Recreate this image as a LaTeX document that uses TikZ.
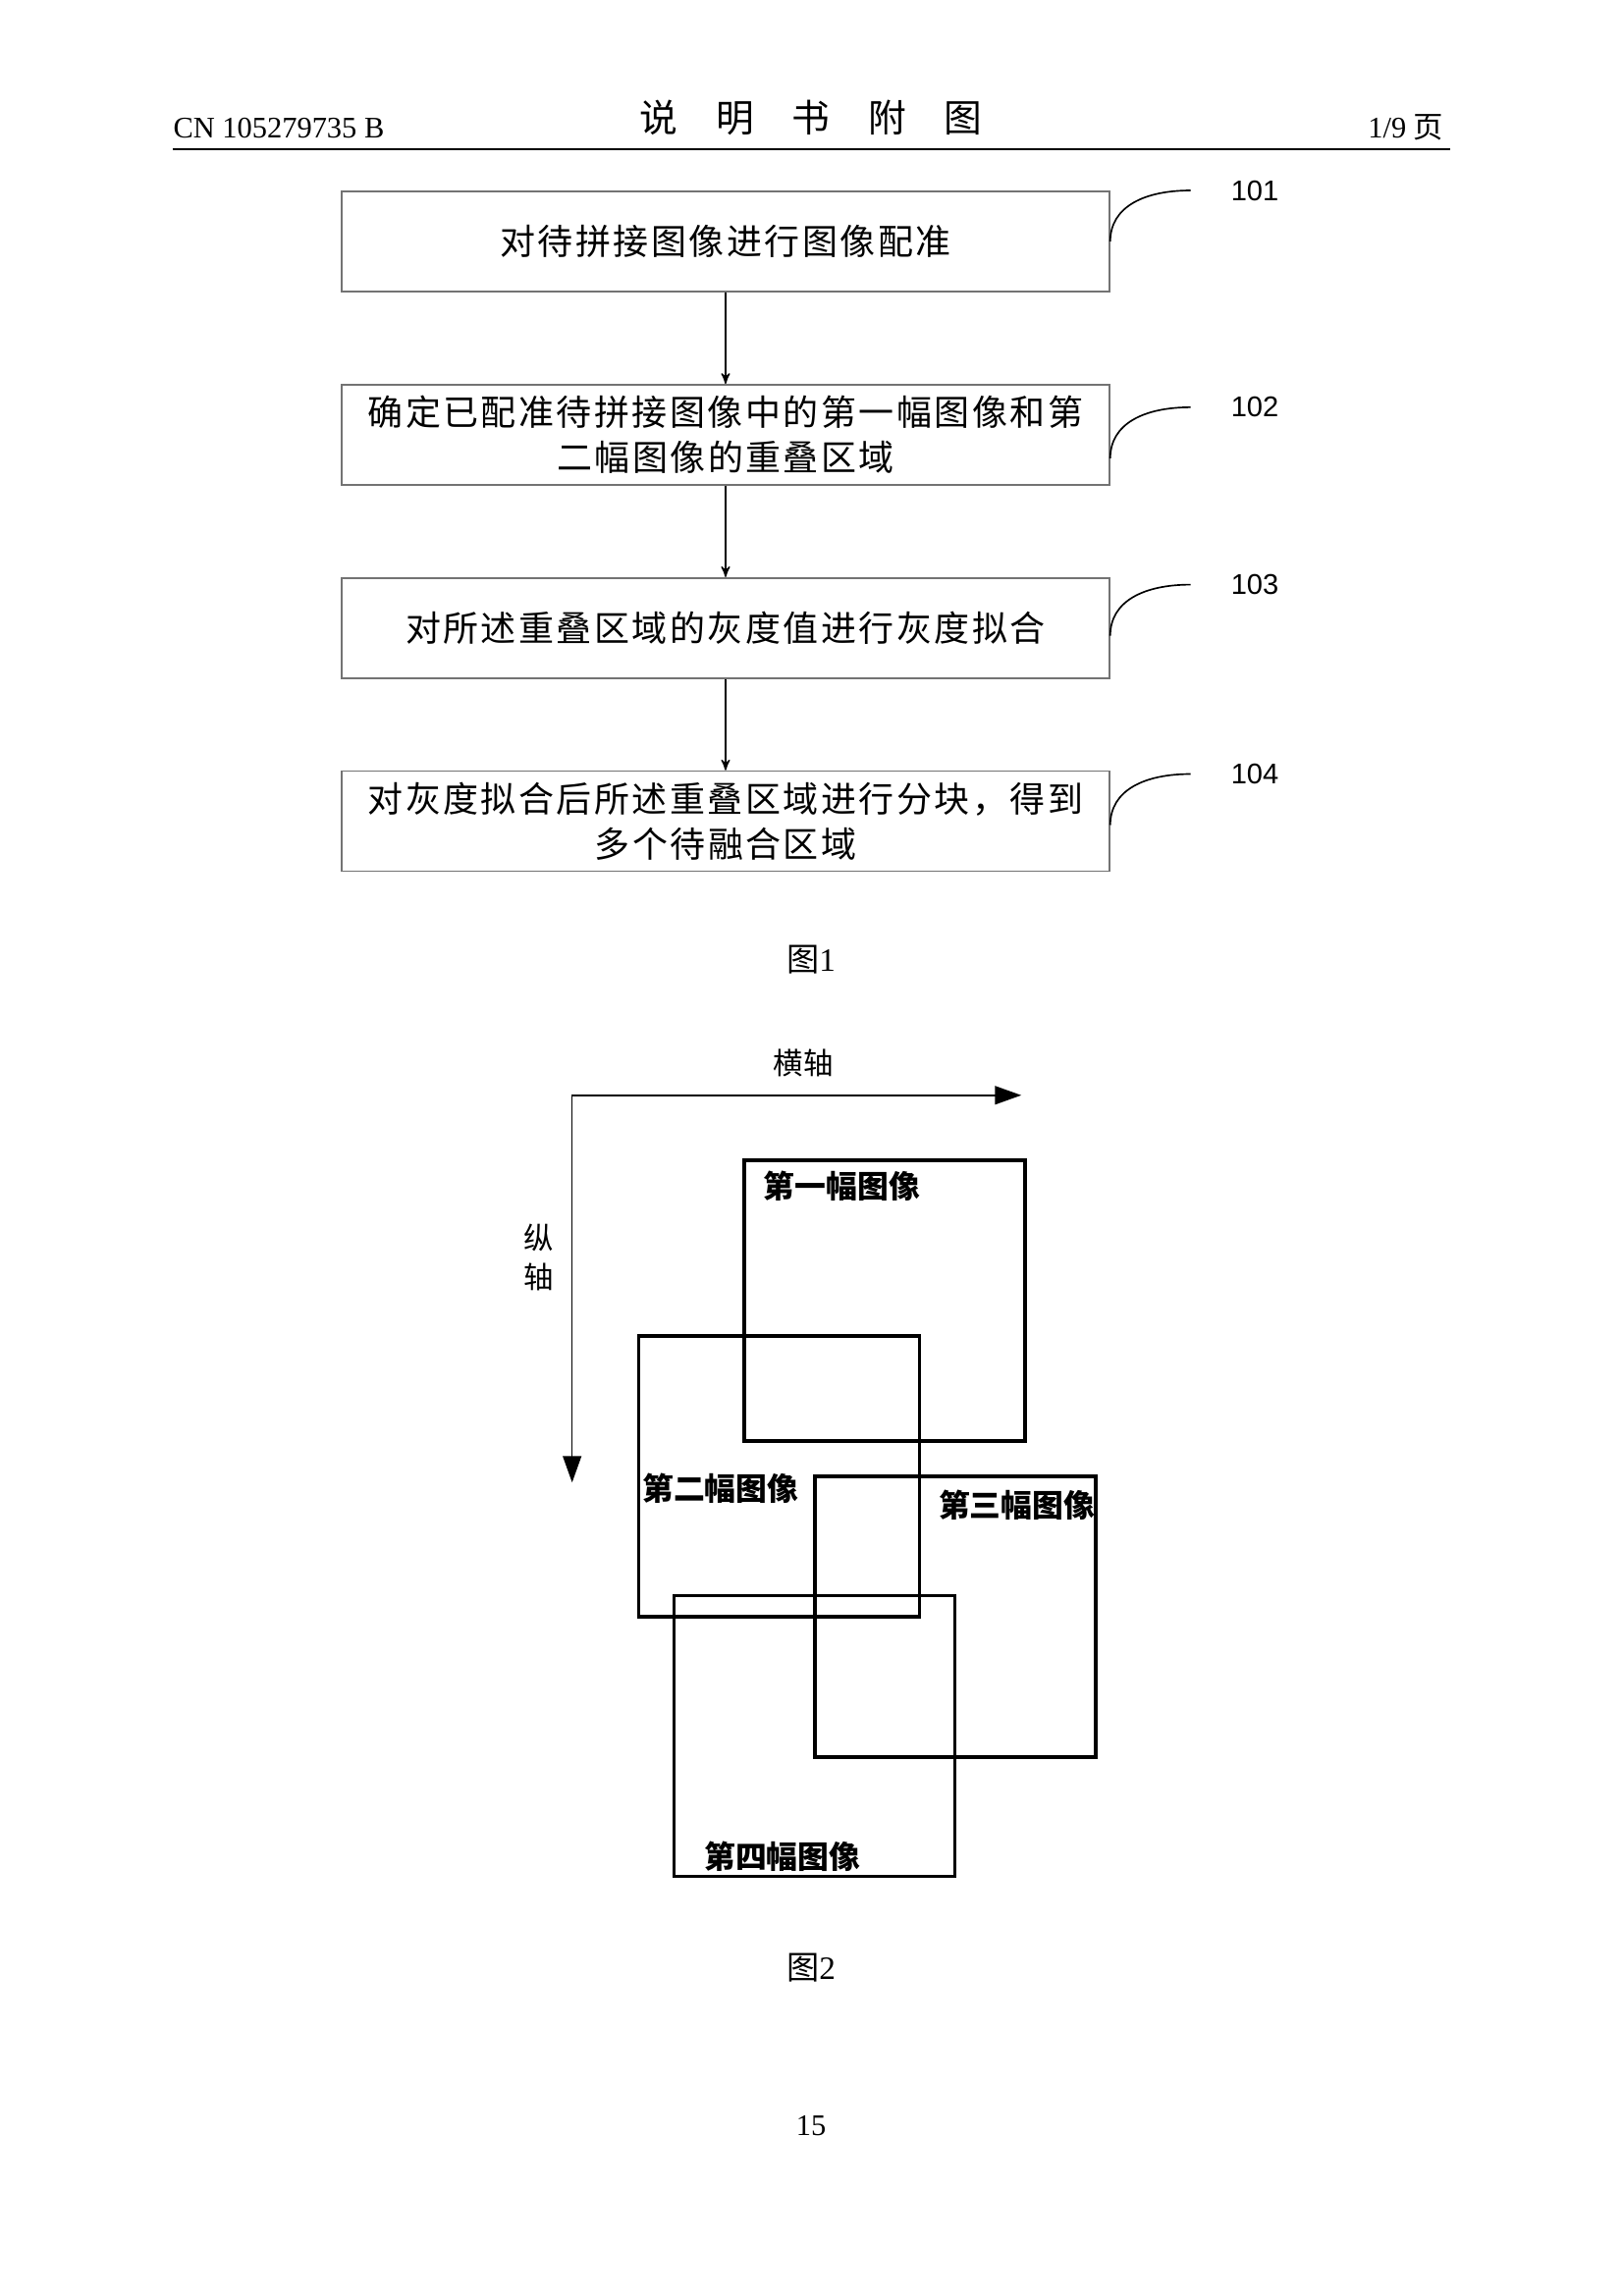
\documentclass[tikz,border=0pt]{standalone}
\usepackage{fontspec}
\setmainfont{Liberation Serif}
\newfontfamily\cjk{Noto Sans CJK SC}
\newfontfamily\cjkwide[LetterSpace=7]{Noto Sans CJK SC}
\newfontfamily\numfont{Liberation Sans}
\usepackage{tikz}
\usetikzlibrary{arrows}
\usetikzlibrary{arrows.meta}
\usetikzlibrary{calc}
\usepackage{xcolor}

\begin{document}
\begin{tikzpicture}[>=stealth',node distance=2.5cm,
  main node/.style={rectangle,draw=black!55,line width=0.6pt,minimum width=9.93cm,
    minimum height=1.295cm,inner sep=0pt,align=center,font=\cjkwide\fontsize{13}{16.6}\selectfont},
  img node/.style={rectangle,draw,line width=1.3pt,minimum size=3.632cm,inner sep=0pt},
  img label/.style={font=\cjk\bfseries\fontsize{11.5}{13}\selectfont,inner sep=0pt},
  tag/.style={font=\numfont\fontsize{10.5}{12}\selectfont}]

  \useasboundingbox[fill=white] (0,0) rectangle (20.99,-29.705);

  % page header
  \node[anchor=base west,inner sep=0pt,font=\fontsize{11}{13}\selectfont] (CN) at (2.235,-1.778) {CN 105279735 B};
  \node[font=\cjk\fontsize{14}{16}\selectfont] (TITLE) at (10.49,-1.524) {说\hspace{1em}明\hspace{1em}书\hspace{1em}附\hspace{1em}图};
  \node[anchor=base east,inner sep=0pt,font=\fontsize{11}{13}\selectfont] (PG) at (18.68,-1.778) {1/9 {\cjk 页}};
  \draw[line width=1pt] (2.235,-1.93) -- (18.76,-1.93);

  % figure 1
  \node[main node] (REG) at (9.385,-3.124) {对待拼接图像进行图像配准};
  \node[main node] (OVL) [below of=REG] {确定已配准待拼接图像中的第一幅图像和第\\二幅图像的重叠区域};
  \node[main node] (FIT) [below of=OVL] {对所述重叠区域的灰度值进行灰度拟合};
  \node[main node] (DIV) [below of=FIT] {对灰度拟合后所述重叠区域进行分块，得到\\多个待融合区域};

  \path[->,line width=0.5pt]
    (REG) edge (OVL)
    (OVL) edge (FIT)
    (FIT) edge (DIV);

  \coordinate (s1) at (REG.east);
  \coordinate (s2) at ($(OVL.east)+(0,-0.305)$);
  \coordinate (s3) at ($(FIT.east)+(0,-0.10)$);
  \coordinate (s4) at ($(DIV.east)+(0,-0.05)$);
  \coordinate (c1) at ($(s1)+(1.04,0.66)$);
  \coordinate (c2) at ($(s2)+(1.04,0.66)$);
  \coordinate (c3) at ($(s3)+(1.04,0.66)$);
  \coordinate (c4) at ($(s4)+(1.04,0.66)$);

  \draw[line width=0.6pt] (s1) .. controls +(0,0.45) and +(-0.6,0) .. (c1);
  \draw[line width=0.6pt] (s2) .. controls +(0,0.45) and +(-0.6,0) .. (c2);
  \draw[line width=0.6pt] (s3) .. controls +(0,0.45) and +(-0.6,0) .. (c3);
  \draw[line width=0.6pt] (s4) .. controls +(0,0.45) and +(-0.6,0) .. (c4);

  \node[tag] (T1) at ($(c1)+(0.83,0)$) {101};
  \node[tag] (T2) at ($(c2)+(0.83,0)$) {102};
  \node[tag] (T3) at ($(c3)+(0.83,0)$) {103};
  \node[tag] (T4) at ($(c4)+(0.83,0)$) {104};

  \node[font=\fontsize{12}{14}\selectfont] (F1) at (10.49,-12.42) {{\cjk 图}1};

  % figure 2
  \coordinate (O) at (7.40,-14.17);
  \coordinate (X) at (13.21,-14.17);
  \coordinate (Y) at (7.40,-19.18);
  \draw[{Triangle[length=9.7pt,width=6.8pt]}-{Triangle[length=9.7pt,width=6.8pt]},line width=0.55pt]
    (X) -- (O) -- (Y);
  \node[font=\cjk\fontsize{11}{13}\selectfont] (HX) at (10.39,-13.75) {横轴};
  \node[align=center,font=\cjk\fontsize{11}{14.4}\selectfont] (ZX) at (6.97,-16.27) {纵\\轴};

  \node[img node] (I1) at (11.443,-16.828) {};
  \node[img node] (I2) at (10.077,-19.101) {};
  \node[img node] (I3) at (12.357,-20.917) {};
  \node[img node] (I4) at (10.535,-22.460) {};

  \node[img label,anchor=west] (L1) at ($(I1.north west)+(0.267,-0.356)$) {第一幅图像};
  \node[img label,anchor=west] (L2) at ($(I2.north west)+(0.064,-1.994)$) {第二幅图像};
  \node[img label,anchor=east] (L3) at ($(I3.north east)+(-0.025,-0.394)$) {第三幅图像};
  \node[img label,anchor=west] (L4) at ($(I4.south west)+(0.406,0.279)$) {第四幅图像};

  \node[font=\fontsize{12}{14}\selectfont] (F2) at (10.49,-25.46) {{\cjk 图}2};
  \node[font=\fontsize{11}{13}\selectfont] (NUM) at (10.49,-27.50) {15};
\end{tikzpicture}
\end{document}
